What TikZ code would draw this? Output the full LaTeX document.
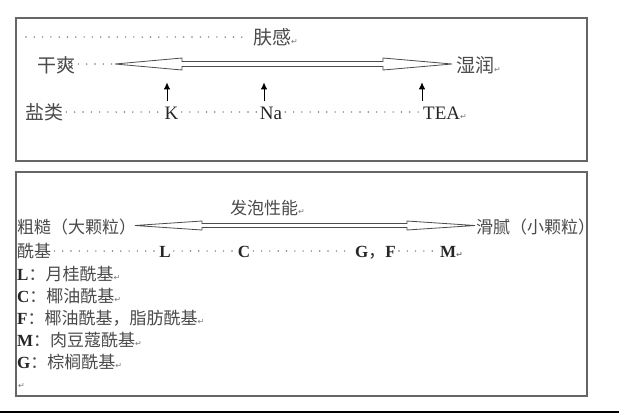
\documentclass[tikz,border=0pt]{standalone}
\usepackage{fontspec}
\setmainfont{Liberation Serif}
\newfontfamily\cjk{Noto Sans CJK SC}
\newfontfamily\symfont{DejaVu Sans}
\usetikzlibrary{arrows.meta,calc}
\definecolor{cjkgray}{HTML}{4A4A4A}
\definecolor{boxgray}{HTML}{666666}
\definecolor{dotgray}{HTML}{7A7A7A}
\newcommand\retmark{{\symfont\fontsize{8}{8}\selectfont\textcolor{dotgray}{↵}}}
\begin{document}
\begin{tikzpicture}[x=1pt,y=-1pt,
  cn/.style={inner sep=0pt, anchor=base west, text=cjkgray, font=\cjk\fontsize{19}{19}\selectfont},
  cs/.style={inner sep=0pt, anchor=base west, text=cjkgray, font=\cjk\fontsize{17}{17}\selectfont},
  lt/.style={inner sep=0pt, anchor=base, text=black!85, font=\fontsize{19}{19}\selectfont},
  lb/.style={inner sep=0pt, anchor=base, text=black!85, font=\bfseries\fontsize{17}{17}\selectfont},
  dotline/.style={dotgray, line width=1.6pt, line cap=round, dash pattern=on 0pt off 8.3pt},
  frame/.style={boxgray, line width=1.2pt},
  uparrow/.style={-{Latex[length=7pt,width=6.5pt]}, line width=1pt, black},
  hollow/.style={draw=black!70, line width=0.8pt, fill=white, line join=miter}
]
\useasboundingbox (0,0) rectangle (619,413);
\fill[white] (0,0) rectangle (619,413);

% frames
\draw[frame] (16,18) rectangle (587,161);
\draw[frame] (16,172) rectangle (587,396);
\draw[black, line width=2pt] (0,412) -- (619,412);

% ---------- top box ----------
\coordinate (r1) at (26,37);
\coordinate (r2) at (0,64);
\coordinate (r3) at (0,112);
\node[cn] (fugan) at (253,44) {肤感\retmark};
\node[cn] (gan) at (37,72) {干爽};
\node[cn] (shi) at (456,72) {湿润\retmark};
\node[cn] (yan) at (25,119) {盐类};
\node[lt] (K) at (171.5,119) {K};
\node[lt] (Na) at (271,119) {Na};
\node[lt, anchor=base west] (TEA) at (423,119) {TEA\retmark};

% hollow double arrow 1
\coordinate (t1l) at (115,64);
\coordinate (t1r) at (452,64);
\path[hollow] (t1l) -- (182,58) -- (182,61.5) -- (383,61.5) -- (383,58) -- (t1r)
  -- (383,70) -- (383,66.5) -- (182,66.5) -- (182,70) -- cycle;

\draw[dotline] (r1) -- ([xshift=-3pt]r1 -| fugan.west);
\draw[dotline] ([xshift=3pt]gan.east |- r2) -- ([xshift=-3pt]t1l);
\draw[dotline] ([xshift=3pt]yan.east |- r3) -- ([xshift=-3pt]K.west |- r3);
\draw[dotline] ([xshift=3pt]K.east |- r3) -- ([xshift=-3pt]Na.west |- r3);
\draw[dotline] ([xshift=3pt]Na.east |- r3) -- ([xshift=-3pt]TEA.west |- r3);

\draw[uparrow] ([xshift=-4.5pt,yshift=5pt]K.north) -- ++(0,-19);
\draw[uparrow] ([xshift=-7pt,yshift=5pt]Na.north) -- ++(0,-19);
\draw[uparrow] ([xshift=-1pt,yshift=5pt]TEA.north west) -- ++(0,-19);

% ---------- bottom box ----------
\coordinate (r5) at (0,251);
\node[cs] (fapao) at (230,214) {发泡性能\retmark};
\node[cs] (cu) at (17,233) {粗糙（大颗粒）};
\node[cs] (hua) at (476,233) {滑腻（小颗粒）};
\node[cs] (xian) at (17,257) {酰基};
\node[lb] (L) at (165,257) {L};
\node[lb] (C) at (244,257) {C};
\node[lb, anchor=base west] (GF) at (355,257) {G{\cjk\mdseries ，}F};
\node[lb, anchor=base west] (M) at (440,257) {M\retmark};

% hollow double arrow 2
\coordinate (t2l) at (135,225.5);
\coordinate (t2r) at (475,225.5);
\path[hollow] (t2l) -- (202,221) -- (202,223.5) -- (407,223.5) -- (407,221) -- (t2r)
  -- (407,230) -- (407,227.5) -- (202,227.5) -- (202,230) -- cycle;

\draw[dotline] ([xshift=3pt]xian.east |- r5) -- ([xshift=-3pt]L.west |- r5);
\draw[dotline] ([xshift=3pt]L.east |- r5) -- ([xshift=-3pt]C.west |- r5);
\draw[dotline] ([xshift=3pt]C.east |- r5) -- ([xshift=-3pt]GF.west |- r5);
\draw[dotline] ([xshift=3pt]GF.east |- r5) -- ([xshift=-3pt]M.west |- r5);

% legend
\node[cs] (lgL) at (17,280.5) {{\rmfamily\bfseries\color{black!85}L}：月桂酰基\retmark};
\node[cs] (lgC) at (17,302.5) {{\rmfamily\bfseries\color{black!85}C}：椰油酰基\retmark};
\node[cs] (lgF) at (17,324.5) {{\rmfamily\bfseries\color{black!85}F}：椰油酰基，脂肪酰基\retmark};
\node[cs] (lgM) at (17,346.5) {{\rmfamily\bfseries\color{black!85}M}：肉豆蔻酰基\retmark};
\node[cs] (lgG) at (17,368.5) {{\rmfamily\bfseries\color{black!85}G}：棕榈酰基\retmark};
\node[cs] (lgE) at (18,388) {\retmark};
\end{tikzpicture}
\end{document}
